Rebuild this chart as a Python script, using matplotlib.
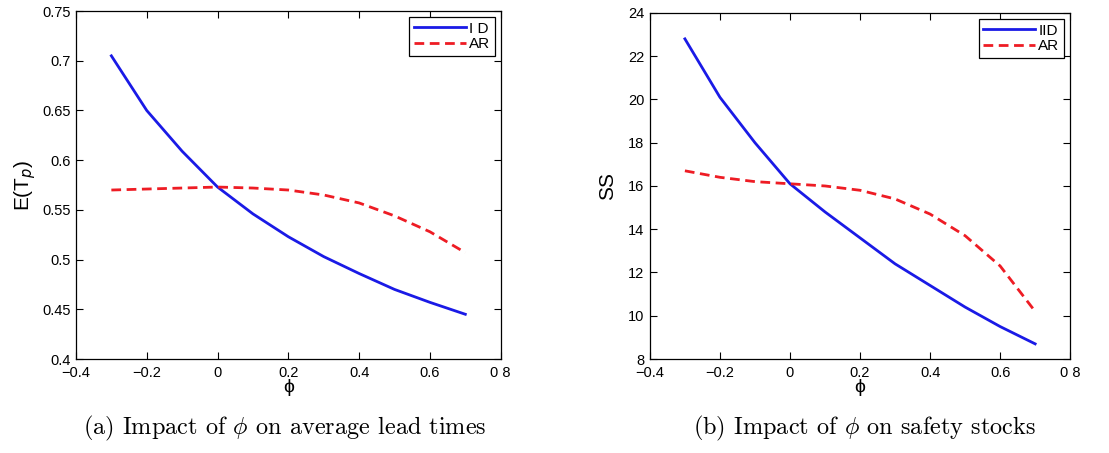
import matplotlib
matplotlib.use("Agg")
import matplotlib.pyplot as plt
import numpy as np

plt.rcParams['font.family'] = ['Liberation Sans', 'DejaVu Sans']
plt.rcParams['mathtext.fontset'] = 'cm'

# data
phi = [-0.3, -0.2, -0.1, 0.0, 0.1, 0.2, 0.3, 0.4, 0.5, 0.6, 0.7]
lead_iid = [0.705, 0.650, 0.609, 0.573, 0.546, 0.523, 0.503, 0.486, 0.470, 0.457, 0.445]
lead_ar = [0.570, 0.571, 0.572, 0.573, 0.572, 0.570, 0.565, 0.557, 0.544, 0.528, 0.507]
ss_iid = [22.8, 20.1, 18.0, 16.1, 14.8, 13.6, 12.4, 11.4, 10.4, 9.5, 8.7]
ss_ar = [16.7, 16.4, 16.2, 16.1, 16.0, 15.8, 15.4, 14.7, 13.7, 12.3, 10.2]

xticks = [-0.4, -0.2, 0.0, 0.2, 0.4, 0.6, 0.8]
xticklabels = ['\u22120.4', '\u22120.2', '0', '0.2', '0.4', '0.6', '0 8']
lead_yticks = [0.4, 0.45, 0.5, 0.55, 0.6, 0.65, 0.7, 0.75]
lead_yticklabels = ['0.4', '0.45', '0.5', '0.55', '0.6', '0.65', '0.7', '0.75']
ss_yticks = [8, 10, 12, 14, 16, 18, 20, 22, 24]

blue = '#1a1ae6'
red = '#ee1c24'
dash = (0, (3.5, 2))

fig = plt.figure(figsize=(11.09, 4.53), dpi=100)
ax1 = fig.add_axes([0.0685, 0.2075, 0.383, 0.768])
ax2 = fig.add_axes([0.586, 0.2075, 0.379, 0.764])


def style(ax):
    ax.tick_params(direction='in', top=True, right=True, labelsize=10.5, length=5, width=0.8)
    ax.tick_params(axis='x', pad=5)
    ax.tick_params(axis='y', pad=4)
    for s in ax.spines.values():
        s.set_linewidth(0.9)
    ax.set_xlim(-0.4, 0.8)
    ax.set_xticks(xticks)
    ax.set_xticklabels(xticklabels)
    ax.set_xlabel('\u03d5', fontsize=14, labelpad=-1)


ax1.plot(phi, lead_iid, color=blue, lw=2, label='I D')
ax1.plot(phi, lead_ar, color=red, lw=2, ls=dash, label='AR')
style(ax1)
ax1.set_ylim(0.4, 0.75)
ax1.set_yticks(lead_yticks)
ax1.set_yticklabels(lead_yticklabels)
ax1.set_ylabel('E(T$_p$)', fontsize=15, math_fontfamily='dejavusans', labelpad=3)

ax2.plot(phi, ss_iid, color=blue, lw=2, label='IID')
ax2.plot(phi, ss_ar, color=red, lw=2, ls=dash, label='AR')
style(ax2)
ax2.set_ylim(8, 24)
ax2.set_yticks(ss_yticks)
ax2.set_ylabel('SS', fontsize=15, labelpad=8)

for ax in (ax1, ax2):
    leg = ax.legend(loc='upper right', fontsize=11, handlelength=3.4, handletextpad=0.2,
                    borderpad=0.3, labelspacing=0.1, borderaxespad=0.4, fancybox=False,
                    framealpha=1, edgecolor='black')
    leg.get_frame().set_linewidth(0.9)

fig.text(0.257, 0.055, '(a) Impact of $\\phi$ on average lead times', ha='center', va='center',
         fontsize=17.5, family='cmr10')
fig.text(0.780, 0.055, '(b) Impact of $\\phi$ on safety stocks', ha='center', va='center',
         fontsize=17.5, family='cmr10')

fig.savefig('out.png', dpi=100)
